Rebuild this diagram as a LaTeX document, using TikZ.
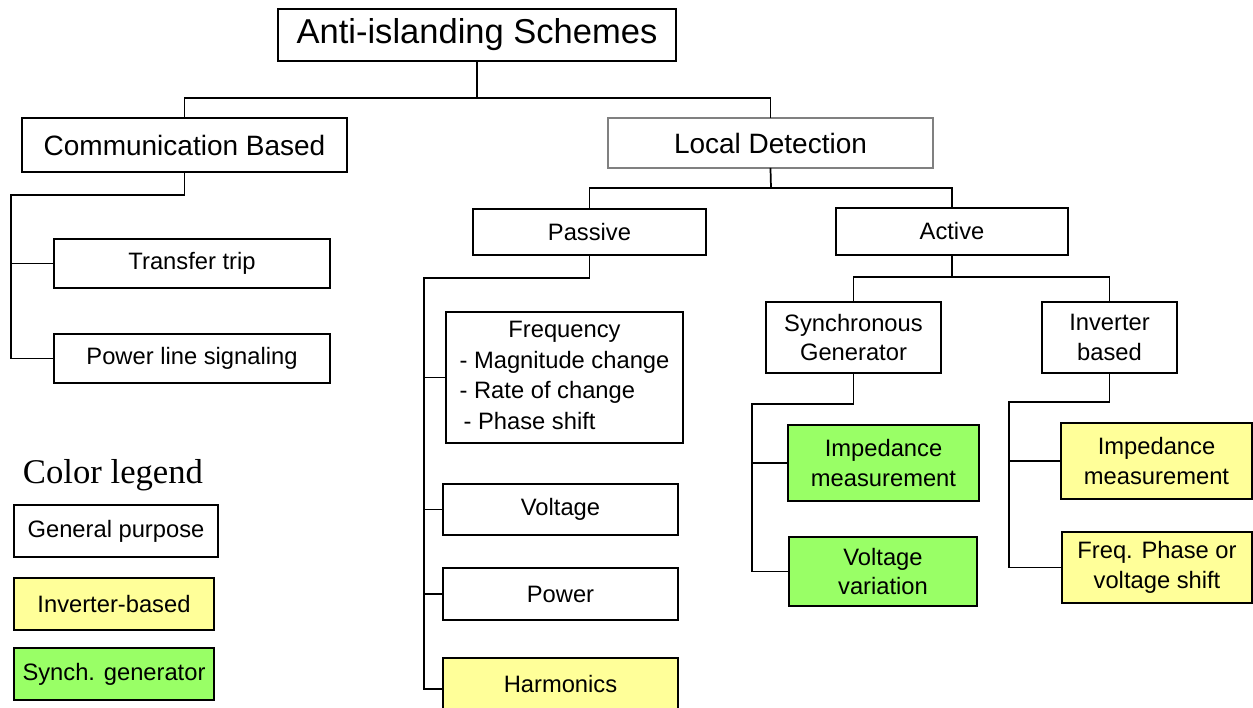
\documentclass[tikz,border=0pt]{standalone}
\usepackage{fontspec}
\setmainfont{Liberation Sans}
\newfontfamily\legendserif{Liberation Serif}
\definecolor{ylw}{HTML}{FFFF99}
\definecolor{grn}{HTML}{99FF66}
\definecolor{ldgray}{HTML}{808080}
\begin{document}
\begin{tikzpicture}[x=0.75pt,y=-0.75pt,
  box/.style={draw=black, line width=1.1pt, fill=white, inner sep=0pt, align=center,
              font=\fontsize{17.8}{22}\selectfont},
  bigbox/.style={box, font=\fontsize{21}{25}\selectfont},
  invbox/.style={box, fill=ylw},
  synbox/.style={box, fill=grn},
  conn/.style={line width=1.3pt, line cap=rect}
]
\clip (0,0) rectangle (1253,707);
\useasboundingbox (0,0) rectangle (1253,707);

% level 0 / 1
\node[box, font=\fontsize{25.9}{30}\selectfont, minimum width=298.5pt, minimum height=39pt] (top) at (477,35) {Anti-islanding Schemes};
\node[bigbox, minimum width=243.75pt, minimum height=40.5pt] (comm) at (184.5,145) {Communication Based};
\node[bigbox, draw=ldgray, minimum width=243.75pt, minimum height=37.5pt] (ld) at (770.5,143) {Local Detection};

% communication children
\node[box, minimum width=207pt, minimum height=36.75pt] (tt) at (192,263.5) {Transfer trip};
\node[box, minimum width=207pt, minimum height=36.75pt] (pls) at (192,358.5) {Power line signaling};

% local detection children
\node[box, minimum width=174.75pt, minimum height=34.5pt] (pas) at (589.5,232) {Passive};
\node[box, minimum width=174pt, minimum height=35.25pt] (act) at (952,231.5) {Active};

% passive children
\node[box, minimum width=177.75pt, minimum height=98.25pt] (freq) at (564.5,377.5)
  {\fontsize{17.8}{23}\selectfont\begin{tabular}{@{}l@{}}\multicolumn{1}{@{}c@{}}{Frequency}\\- Magnitude change\\- Rate of change\\\hspace{3pt}- Phase shift\end{tabular}};
\node[box, minimum width=176.25pt, minimum height=38.25pt] (volt) at (560.5,509.5) {Voltage};
\node[box, minimum width=176.25pt, minimum height=39pt] (pow) at (560.5,594) {Power};
\node[invbox, minimum width=176.25pt, minimum height=39pt] (harm) at (560.5,684) {Harmonics};

% active children
\node[box, minimum width=131.25pt, minimum height=53.25pt] (sg) at (853.5,337.5) {Synchronous\\Generator};
\node[box, minimum width=101.25pt, minimum height=53.25pt] (ib) at (1109.5,337.5) {Inverter\\based};

\node[synbox, minimum width=143.25pt, minimum height=57pt] (gimp) at (883.5,463) {Impedance\\measurement};
\node[synbox, minimum width=141pt, minimum height=51.75pt] (gvolt) at (883,571.5) {Voltage\\variation};
\node[invbox, minimum width=143.25pt, minimum height=57pt] (yimp) at (1156.5,461) {Impedance\\measurement};
\node[invbox, minimum width=142.5pt, minimum height=53.25pt] (yfreq) at (1157,567.5) {Freq. Phase or\\voltage shift};

% legend
\node[anchor=base, font=\legendserif\fontsize{26}{30}\selectfont] (legt) at (113,483) {Color legend};
\node[box, minimum width=153pt, minimum height=39pt] (lgen) at (116,531) {General purpose};
\node[invbox, minimum width=150pt, minimum height=39pt] (linv) at (114,604) {Inverter-based};
\node[synbox, minimum width=150pt, minimum height=39pt] (lsyn) at (114,674) {Synch. generator};

% connectors
\coordinate (b0) at (478,98);
\draw[conn] (top.south) -- (top.south |- b0);
\draw[conn] (comm.north) |- (b0) -| (ld.north);

\coordinate (cbus) at (11,195);
\draw[conn] (comm.south) |- (cbus);
\draw[conn] (cbus) |- (pls.west);
\draw[conn] (cbus |- tt.west) -- (tt.west);

\coordinate (b1) at (771,188);
\draw[conn] (ld.south) -- (b1);
\draw[conn] (pas.north) |- (b1) -| (act.north);

\coordinate (pbus) at (424,278);
\coordinate (pend) at (424,689);
\draw[conn] (pas.south) |- (pbus);
\draw[conn] (pbus) -- (pend) -- (pend -| harm.west);
\draw[conn] (pbus |- freq.west) -- (freq.west);
\draw[conn] (pbus |- volt.west) -- (volt.west);
\draw[conn] (pbus |- pow.west) -- (pow.west);

\coordinate (b2) at (952,277);
\draw[conn] (act.south) -- (b2);
\draw[conn] (sg.north) |- (b2) -| (ib.north);

\coordinate (sbus) at (752,404);
\draw[conn] (sg.south) |- (sbus);
\draw[conn] (sbus) |- (gvolt.west);
\draw[conn] (sbus |- gimp.west) -- (gimp.west);

\coordinate (ibus) at (1009,402);
\draw[conn] (ib.south) |- (ibus);
\draw[conn] (ibus) |- (yfreq.west);
\draw[conn] (ibus |- yimp.west) -- (yimp.west);
\end{tikzpicture}
\end{document}
